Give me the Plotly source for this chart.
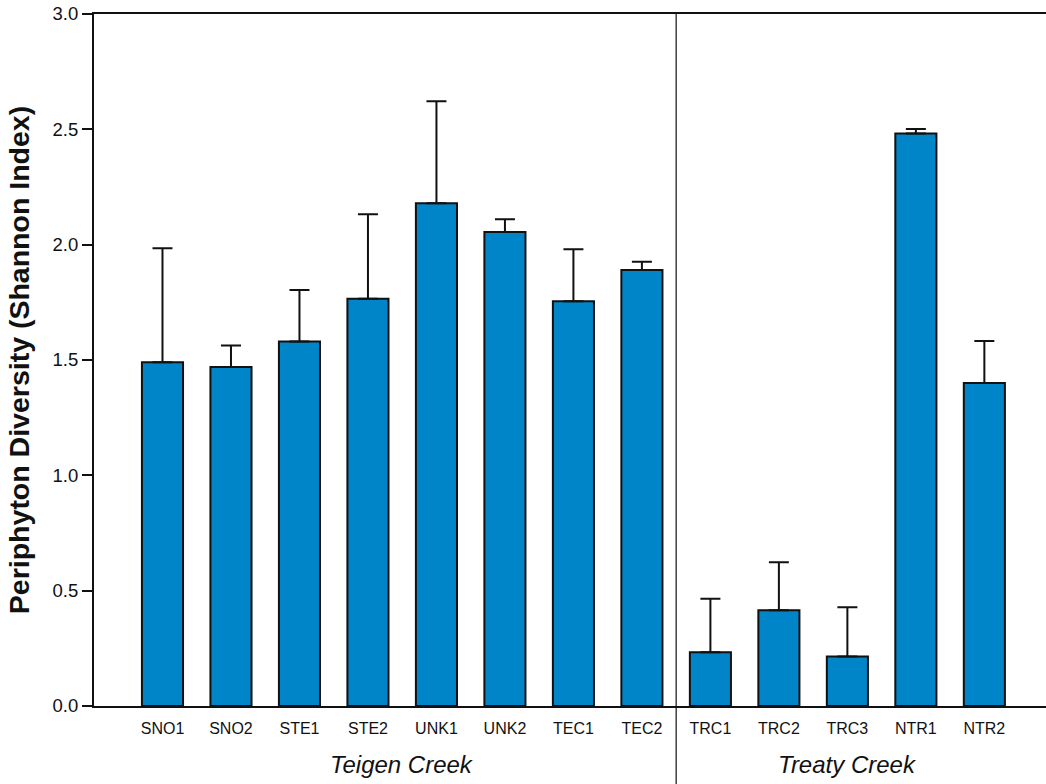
import plotly.graph_objects as go

sites = ["SNO1", "SNO2", "STE1", "STE2", "UNK1", "UNK2", "TEC1", "TEC2",
         "TRC1", "TRC2", "TRC3", "NTR1", "NTR2"]
diversity = [1.49, 1.47, 1.58, 1.765, 2.18, 2.055, 1.755, 1.89,
             0.233, 0.415, 0.215, 2.482, 1.40]
err_plus = [0.494, 0.093, 0.224, 0.367, 0.442, 0.055, 0.225, 0.036,
            0.232, 0.208, 0.213, 0.019, 0.182]
groups = ["Teigen Creek", "Treaty Creek"]
group_sites = [sites[:8], sites[8:]]

BLUE = "#0085C8"
FONT = "Liberation Sans Narrow, Arial Narrow, Liberation Sans, Arial, sans-serif"

fig = go.Figure()
fig.add_trace(go.Bar(
    x=sites, y=diversity,
    marker=dict(color=BLUE, line=dict(color="#111111", width=2)),
    width=0.6,
    error_y=dict(type="data", symmetric=False, array=err_plus,
                 arrayminus=[0] * len(sites),
                 color="#111111", thickness=2, width=10),
    showlegend=False,
))

# divider between the two creeks
fig.add_shape(type="line", xref="x", yref="paper",
              x0=7.5, x1=7.5, y0=1, y1=-0.13,
              line=dict(color="#111111", width=1.2))

# group labels
for g, members in zip(groups, group_sites):
    i0 = sites.index(members[0]); i1 = sites.index(members[-1])
    fig.add_annotation(x=(i0 + i1) / 2, xref="x", y=-0.085, yref="paper",
                       yanchor="middle", text=f"<i>{g}</i>", showarrow=False,
                       font=dict(family=FONT, size=24, color="#111111"))

fig.update_layout(
    width=1046, height=784,
    margin=dict(l=94, r=0, t=14, b=78),
    plot_bgcolor="white", paper_bgcolor="white",
    font=dict(family=FONT, color="#111111"),
)
fig.update_xaxes(
    type="category", range=[-1, 12.9], automargin=False,
    showline=True, linecolor="#111111", linewidth=2, mirror=True,
    ticks="", showgrid=False, zeroline=False,
    tickfont=dict(family=FONT, size=16, color="#111111"),
    ticklabelstandoff=7,
)
fig.update_yaxes(
    range=[0, 3.0], tickvals=[0, 0.5, 1.0, 1.5, 2.0, 2.5, 3.0],
    ticktext=["0.0", "0.5", "1.0", "1.5", "2.0", "2.5", "3.0"],
    automargin=False,
    showline=True, linecolor="#111111", linewidth=2,
    ticks="outside", ticklen=10, tickwidth=1.5, tickcolor="#111111",
    showgrid=False, zeroline=False, ticklabeloverflow="allow",
    tickfont=dict(family=FONT, size=18.5, color="#111111"),
    title=dict(text="<b>Periphyton Diversity (Shannon Index)</b>",
               font=dict(family=FONT, size=28.5, color="#111111"), standoff=15),
)

fig.write_html("out.html",
               config={"displayModeBar": False},
               post_script="document.body.style.margin='0';")
